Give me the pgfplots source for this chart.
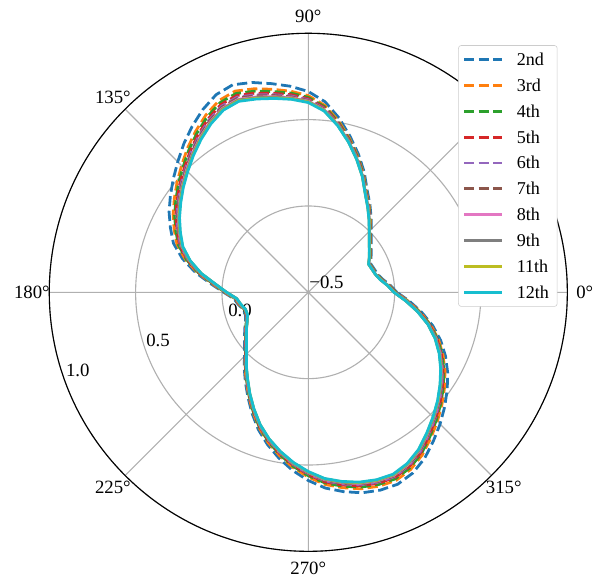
\documentclass[border=0pt]{standalone}
\usepackage{fontspec}
\setmainfont{Liberation Serif}
\usepackage{pgfplots}
\usepackage{pgfplotstable}
\pgfplotsset{compat=1.18}
\usepgfplotslibrary{polar}
\definecolor{c2}{HTML}{1F77B4}
\definecolor{c3}{HTML}{FF7F0E}
\definecolor{c4}{HTML}{2CA02C}
\definecolor{c5}{HTML}{D62728}
\definecolor{c6}{HTML}{9467BD}
\definecolor{c7}{HTML}{8C564B}
\definecolor{c8}{HTML}{E377C2}
\definecolor{c9}{HTML}{7F7F7F}
\definecolor{c11}{HTML}{BCBD22}
\definecolor{c12}{HTML}{17BECF}
\definecolor{gridc}{HTML}{B0B0B0}

\pgfplotstableread{
t s2 s3 s4 s5 s6 s7 s8 s9 s11 s12
0 0.013 0.007 0.004 0.002 0.000 -0.001 -0.002 -0.003 -0.003 -0.004
5 -0.024 -0.030 -0.032 -0.034 -0.036 -0.037 -0.038 -0.039 -0.039 -0.040
10 -0.063 -0.068 -0.070 -0.072 -0.073 -0.074 -0.075 -0.076 -0.076 -0.077
15 -0.086 -0.091 -0.092 -0.094 -0.095 -0.096 -0.097 -0.097 -0.098 -0.098
20 -0.096 -0.101 -0.102 -0.104 -0.105 -0.106 -0.107 -0.107 -0.108 -0.108
25 -0.103 -0.108 -0.109 -0.111 -0.112 -0.113 -0.114 -0.114 -0.115 -0.115
30 -0.080 -0.085 -0.086 -0.088 -0.089 -0.090 -0.091 -0.091 -0.092 -0.092
35 -0.055 -0.060 -0.062 -0.064 -0.065 -0.066 -0.067 -0.068 -0.068 -0.069
40 -0.024 -0.030 -0.032 -0.034 -0.036 -0.037 -0.038 -0.039 -0.039 -0.040
45 0.016 0.010 0.007 0.005 0.003 0.002 0.001 0.000 0.000 -0.001
50 0.066 0.059 0.056 0.054 0.052 0.051 0.049 0.049 0.048 0.047
55 0.122 0.114 0.110 0.108 0.106 0.104 0.103 0.102 0.101 0.100
60 0.182 0.173 0.170 0.167 0.165 0.163 0.162 0.161 0.160 0.159
65 0.267 0.257 0.253 0.249 0.247 0.245 0.243 0.242 0.241 0.240
70 0.350 0.338 0.334 0.330 0.327 0.325 0.323 0.321 0.320 0.319
75 0.435 0.422 0.416 0.412 0.409 0.407 0.404 0.403 0.401 0.400
80 0.525 0.508 0.501 0.496 0.491 0.489 0.485 0.484 0.482 0.480
85 0.608 0.587 0.579 0.573 0.568 0.564 0.560 0.558 0.556 0.554
90 0.663 0.639 0.629 0.621 0.615 0.611 0.607 0.604 0.602 0.599
95 0.698 0.669 0.658 0.649 0.641 0.636 0.631 0.628 0.625 0.622
100 0.727 0.694 0.681 0.670 0.662 0.657 0.650 0.647 0.643 0.640
105 0.758 0.720 0.706 0.694 0.684 0.678 0.671 0.667 0.663 0.659
110 0.779 0.740 0.725 0.713 0.703 0.696 0.689 0.685 0.681 0.677
115 0.763 0.725 0.711 0.699 0.689 0.683 0.676 0.672 0.668 0.664
120 0.722 0.686 0.672 0.660 0.651 0.645 0.638 0.635 0.631 0.627
125 0.673 0.638 0.625 0.614 0.605 0.599 0.593 0.589 0.586 0.582
130 0.622 0.589 0.576 0.565 0.557 0.552 0.545 0.542 0.538 0.535
135 0.569 0.538 0.526 0.516 0.508 0.503 0.498 0.494 0.491 0.488
140 0.521 0.492 0.481 0.472 0.464 0.459 0.454 0.451 0.448 0.445
145 0.475 0.447 0.436 0.428 0.420 0.416 0.411 0.408 0.405 0.402
150 0.431 0.404 0.394 0.386 0.379 0.374 0.369 0.367 0.364 0.361
155 0.381 0.357 0.347 0.339 0.333 0.329 0.325 0.322 0.320 0.317
160 0.331 0.309 0.300 0.293 0.288 0.284 0.280 0.278 0.275 0.273
165 0.255 0.237 0.230 0.224 0.220 0.217 0.214 0.212 0.210 0.208
170 0.164 0.151 0.145 0.141 0.138 0.136 0.133 0.132 0.130 0.129
175 0.066 0.056 0.052 0.048 0.046 0.044 0.042 0.041 0.040 0.039
180 -0.010 -0.016 -0.019 -0.021 -0.023 -0.024 -0.025 -0.026 -0.026 -0.027
185 -0.068 -0.074 -0.076 -0.078 -0.080 -0.081 -0.082 -0.083 -0.083 -0.084
190 -0.089 -0.094 -0.096 -0.098 -0.099 -0.100 -0.101 -0.102 -0.102 -0.103
195 -0.111 -0.116 -0.117 -0.119 -0.120 -0.121 -0.122 -0.122 -0.123 -0.123
200 -0.113 -0.118 -0.119 -0.121 -0.122 -0.123 -0.124 -0.124 -0.125 -0.125
205 -0.098 -0.103 -0.104 -0.106 -0.107 -0.108 -0.109 -0.109 -0.110 -0.110
210 -0.075 -0.080 -0.081 -0.083 -0.084 -0.085 -0.086 -0.086 -0.087 -0.087
215 -0.049 -0.054 -0.056 -0.058 -0.059 -0.060 -0.061 -0.062 -0.062 -0.063
220 -0.017 -0.023 -0.025 -0.027 -0.029 -0.030 -0.031 -0.032 -0.032 -0.033
225 0.023 0.017 0.014 0.012 0.010 0.009 0.008 0.007 0.007 0.006
230 0.077 0.070 0.067 0.065 0.063 0.062 0.060 0.060 0.059 0.058
235 0.135 0.127 0.123 0.121 0.119 0.117 0.116 0.115 0.114 0.113
240 0.200 0.191 0.188 0.185 0.183 0.181 0.180 0.179 0.178 0.177
245 0.272 0.262 0.258 0.254 0.252 0.250 0.248 0.247 0.246 0.245
250 0.346 0.334 0.330 0.326 0.323 0.321 0.319 0.317 0.316 0.315
255 0.413 0.400 0.394 0.390 0.387 0.385 0.382 0.381 0.379 0.378
260 0.476 0.460 0.454 0.449 0.445 0.443 0.440 0.438 0.437 0.435
265 0.536 0.518 0.511 0.505 0.501 0.498 0.495 0.493 0.491 0.489
270 0.590 0.570 0.562 0.556 0.551 0.548 0.544 0.542 0.540 0.538
275 0.638 0.617 0.608 0.602 0.596 0.593 0.589 0.586 0.584 0.582
280 0.672 0.649 0.640 0.633 0.627 0.623 0.619 0.617 0.614 0.612
285 0.702 0.678 0.668 0.660 0.654 0.650 0.646 0.643 0.641 0.638
290 0.719 0.695 0.685 0.677 0.671 0.667 0.663 0.660 0.658 0.655
295 0.726 0.702 0.692 0.684 0.678 0.674 0.670 0.667 0.665 0.662
300 0.709 0.685 0.675 0.667 0.661 0.657 0.653 0.650 0.648 0.645
305 0.674 0.650 0.641 0.634 0.628 0.624 0.619 0.617 0.614 0.612
310 0.626 0.603 0.594 0.587 0.581 0.577 0.573 0.571 0.568 0.566
315 0.579 0.557 0.548 0.541 0.536 0.532 0.528 0.526 0.523 0.521
320 0.531 0.510 0.502 0.496 0.491 0.487 0.483 0.481 0.479 0.477
325 0.482 0.463 0.455 0.449 0.444 0.441 0.437 0.435 0.433 0.431
330 0.432 0.414 0.407 0.401 0.397 0.394 0.391 0.389 0.387 0.385
335 0.377 0.361 0.355 0.350 0.346 0.344 0.341 0.339 0.338 0.336
340 0.316 0.303 0.297 0.293 0.290 0.288 0.285 0.284 0.282 0.281
345 0.246 0.235 0.231 0.227 0.224 0.223 0.220 0.219 0.218 0.217
350 0.167 0.158 0.154 0.151 0.148 0.147 0.145 0.144 0.143 0.142
355 0.088 0.080 0.076 0.074 0.072 0.070 0.069 0.068 0.067 0.066
360 0.013 0.007 0.004 0.002 0.000 -0.001 -0.002 -0.003 -0.003 -0.004
}\data

\begin{document}
\begin{tikzpicture}
\begin{polaraxis}[
  width=373pt, height=373pt, scale only axis,
  xmin=0, xmax=360, ymin=0, ymax=1.5,
  y filter/.expression={y+0.5},
  xtick={0,45,...,315},
  xticklabel={\pgfmathprintnumber[assume math mode=true]{\tick}°},
  xticklabel style={anchor=center, shift={(\tick:12.5pt)}},
  ytick={0.5,1.0,1.5}, yticklabels={},
  grid=major,
  major grid style={draw=gridc, line width=0.8pt},
  axis line style={black, line width=0.8pt},
  y axis line style={draw=none},
  major tick length=0pt,
  tick label style={font=\fontsize{13.5}{16}\selectfont},
  legend image code/.code={\draw[line width=2pt,#1] (0pt,0pt) -- (27pt,0pt);},
  legend cell align=left,
  legend style={at={(0.981,0.977)}, anchor=north east,
    draw=black!20, rounded corners=2pt, fill=white,
    font=\fontsize{13}{15}\selectfont,
    inner xsep=3pt, inner ysep=3.5pt,
    nodes={inner xsep=3pt, inner ysep=2pt, text height=9pt, text depth=0.5pt},
    column sep=7pt,
    row sep=5.1pt},
  every axis plot/.append style={line width=2pt, line join=round},
]
\coordinate (c) at (axis cs:0,0);
\node[font=\fontsize{13.5}{16}\selectfont] at ([shift={(13.1pt,7.2pt)}]axis cs:0,0) {−0.5};
\node[font=\fontsize{13.5}{16}\selectfont] at ([shift={(-49.2pt,-13.2pt)}]axis cs:0,0) {0.0};
\node[font=\fontsize{13.5}{16}\selectfont] at ([shift={(-108.2pt,-34.8pt)}]axis cs:0,0) {0.5};
\node[font=\fontsize{13.5}{16}\selectfont] at ([shift={(-166.0pt,-55.9pt)}]axis cs:0,0) {1.0};
\addplot[c2, dash pattern=on 7.4pt off 3.2pt] table[x=t,y=s2]{\data}; \addlegendentry{2nd}
\addplot[c3, dash pattern=on 7.4pt off 3.2pt] table[x=t,y=s3]{\data}; \addlegendentry{3rd}
\addplot[c4, dash pattern=on 7.4pt off 3.2pt] table[x=t,y=s4]{\data}; \addlegendentry{4th}
\addplot[c5, dash pattern=on 7.4pt off 3.2pt] table[x=t,y=s5]{\data}; \addlegendentry{5th}
\addplot[c6, dash pattern=on 7.4pt off 3.2pt] table[x=t,y=s6]{\data}; \addlegendentry{6th}
\addplot[c7, dash pattern=on 7.4pt off 3.2pt] table[x=t,y=s7]{\data}; \addlegendentry{7th}
\addplot[c8] table[x=t,y=s8]{\data}; \addlegendentry{8th}
\addplot[c9] table[x=t,y=s9]{\data}; \addlegendentry{9th}
\addplot[c11] table[x=t,y=s11]{\data}; \addlegendentry{11th}
\addplot[c12] table[x=t,y=s12]{\data}; \addlegendentry{12th}
\end{polaraxis}
\pgfresetboundingbox
\path ([shift={(-221.98pt,-205.70pt)}]c) rectangle ([shift={(207.86pt,210.46pt)}]c);
\end{tikzpicture}
\end{document}
